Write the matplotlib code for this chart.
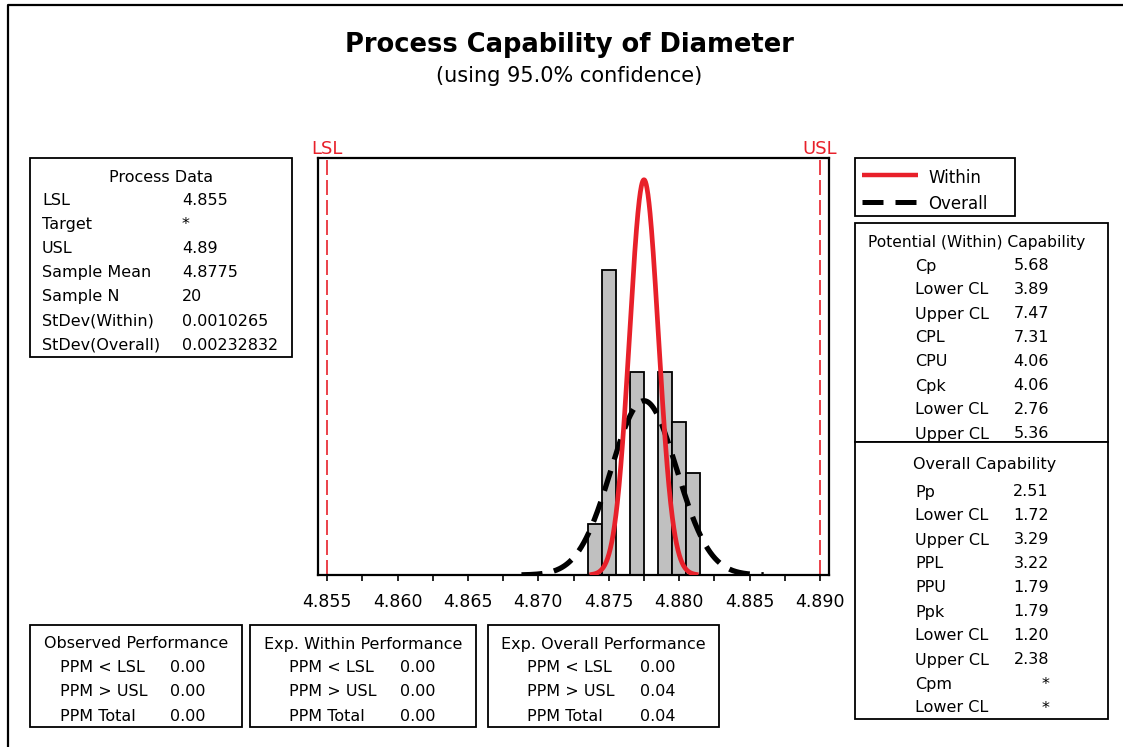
"""
Process capability report for Diameter, redrawn in matplotlib.
Histogram of the 20 measurements with the within / overall normal fits,
spec limits and the capability tables around it.
"""
import matplotlib
matplotlib.use("Agg")
import matplotlib.pyplot as plt
import numpy as np
from matplotlib.patches import Rectangle
from matplotlib.ticker import MultipleLocator

# ---- data ----
LSL = 4.855
USL = 4.890
sample_mean = 4.8775
sample_n = 20
stdev_within = 0.0010265
stdev_overall = 0.00232832

bin_left = [4.8735, 4.8745, 4.8755, 4.8765, 4.8775, 4.8785, 4.8795, 4.8805]
bin_counts = [1, 6, 0, 4, 0, 4, 3, 2]
bin_width = 0.001

# span over which each fitted curve is drawn
within_span = (4.8738, 4.8812)
overall_span = (4.8688, 4.8860)

x_ticks = [4.855, 4.860, 4.865, 4.870, 4.875, 4.880, 4.885, 4.890]

process_labels = ["LSL", "Target", "USL", "Sample Mean", "Sample N",
                  "StDev(Within)", "StDev(Overall)"]
process_values = ["4.855", "*", "4.89", "4.8775", "20", "0.0010265", "0.00232832"]

within_labels = ["Cp", "Lower CL", "Upper CL", "CPL", "CPU", "Cpk",
                 "Lower CL", "Upper CL"]
within_values = ["5.68", "3.89", "7.47", "7.31", "4.06", "4.06", "2.76", "5.36"]

overall_labels = ["Pp", "Lower CL", "Upper CL", "PPL", "PPU", "Ppk",
                  "Lower CL", "Upper CL", "Cpm", "Lower CL"]
overall_values = ["2.51", "1.72", "3.29", "3.22", "1.79", "1.79",
                  "1.20", "2.38", "*", "*"]

perf_labels = ["PPM < LSL", "PPM > USL", "PPM Total"]
observed_ppm = ["0.00", "0.00", "0.00"]
exp_within_ppm = ["0.00", "0.00", "0.00"]
exp_overall_ppm = ["0.00", "0.04", "0.04"]

RED = "#E8202A"
GREY = "#C0C0C0"
W, H = 1123, 747

plt.rcParams["font.family"] = ["DejaVu Sans"]


def normal_pdf(x, mu, sd):
    return np.exp(-0.5 * ((x - mu) / sd) ** 2) / (sd * np.sqrt(2 * np.pi))


fig = plt.figure(figsize=(W / 100, H / 100), dpi=100)
fig.patch.set_facecolor("white")

# pixel canvas for the boxes and text
cv = fig.add_axes([0, 0, 1, 1])
cv.set_xlim(0, W)
cv.set_ylim(H, 0)
cv.axis("off")

# outer frame (left and top only)
cv.plot([7.5, 7.5, W], [H, 5, 5], color="black", lw=1.6, solid_capstyle="butt")

cv.text(569, 45, "Process Capability of Diameter", ha="center", va="center",
        fontsize=18.5, fontweight="bold")
cv.text(569, 76, "(using 95.0% confidence)", ha="center", va="center", fontsize=15)

FS = 11.5


def box(x0, y0, x1, y1, z=2):
    cv.add_patch(Rectangle((x0, y0), x1 - x0, y1 - y0, facecolor="white",
                           edgecolor="black", lw=1.3, zorder=z))


# Process Data box
box(30, 158, 292, 357)
cv.text(161, 178, "Process Data", ha="center", va="center", fontsize=FS, zorder=3)
for i, (lab, val) in enumerate(zip(process_labels, process_values)):
    y = 200.5 + 24.1 * i
    cv.text(42, y, lab, ha="left", va="center", fontsize=FS, zorder=3)
    cv.text(182, y, val, ha="left", va="center", fontsize=FS, zorder=3)

# legend box
box(855, 158, 1015, 216)
cv.plot([862, 918], [175, 175], color=RED, lw=3.2, solid_capstyle="butt", zorder=3)
cv.plot([862, 918], [202, 202], color="black", lw=3.6, dashes=(4.2, 2.4), zorder=3)
cv.text(928, 178, "Within", ha="left", va="center", fontsize=FS + 0.5, zorder=3)
cv.text(928, 204, "Overall", ha="left", va="center", fontsize=FS + 0.5, zorder=3)

# Potential (Within) capability
box(855, 223, 1108, 442, z=2)
cv.text(868, 242, "Potential (Within) Capability", ha="left", va="center",
        fontsize=FS - 0.3, zorder=3)
for i, (lab, val) in enumerate(zip(within_labels, within_values)):
    y = 266 + 24 * i
    cv.text(915, y, lab, ha="left", va="center", fontsize=FS, zorder=3)
    cv.text(1049, y, val, ha="right", va="center", fontsize=FS, zorder=3)

# Overall capability (drawn on top so it clips the last row above)
box(855, 442, 1108, 719, z=4)
cv.text(985, 464, "Overall Capability", ha="center", va="center", fontsize=FS, zorder=5)
for i, (lab, val) in enumerate(zip(overall_labels, overall_values)):
    y = 492 + 24 * i
    cv.text(915, y, lab, ha="left", va="center", fontsize=FS, zorder=5)
    cv.text(1049, y, val, ha="right", va="center", fontsize=FS, zorder=5)

# performance boxes along the bottom
perf_boxes = [
    ((30, 242), "Observed Performance", observed_ppm, 60, 170),
    ((250, 476), "Exp. Within Performance", exp_within_ppm, 289, 400),
    ((488, 719), "Exp. Overall Performance", exp_overall_ppm, 527, 640),
]
for (x0, x1), title, vals, lab_x, val_x in perf_boxes:
    box(x0, 625, x1, 727)
    cv.text((x0 + x1) / 2, 644, title, ha="center", va="center", fontsize=FS, zorder=3)
    for i, (lab, val) in enumerate(zip(perf_labels, vals)):
        y = 667.5 + 24.3 * i
        cv.text(lab_x, y, lab, ha="left", va="center", fontsize=FS, zorder=3)
        cv.text(val_x, y, val, ha="left", va="center", fontsize=FS, zorder=3)

# ---- histogram axes ----
ax = fig.add_axes([318 / W, 1 - 575 / H, (829 - 318) / W, (575 - 158) / H])
density = np.array(bin_counts) / (sample_n * bin_width)
ax.bar(bin_left, density, width=bin_width, align="edge", color=GREY,
       edgecolor="black", linewidth=1.3, zorder=2)

xw = np.linspace(*within_span, 300)
ax.plot(xw, normal_pdf(xw, sample_mean, stdev_within), color=RED, lw=3.4, zorder=4)
xo = np.linspace(*overall_span, 300)
ax.plot(xo, normal_pdf(xo, sample_mean, stdev_overall), color="black", lw=3.8,
        dashes=(4.0, 2.2), zorder=3)

for spec, name in [(LSL, "LSL"), (USL, "USL")]:
    ax.axvline(spec, color=RED, lw=1.2, dashes=(9, 3), zorder=1)
    ax.text(spec, 1.0, name, transform=ax.get_xaxis_transform(), ha="center",
            va="bottom", color=RED, fontsize=13)

ax.set_xlim(4.85435, 4.89064)
ax.set_ylim(0, 1.055 * normal_pdf(sample_mean, sample_mean, stdev_within))
ax.set_xticks(x_ticks)
ax.set_xticklabels([f"{t:.3f}" for t in x_ticks], fontsize=12.5)
ax.xaxis.set_minor_locator(MultipleLocator(0.0025))
ax.tick_params(axis="x", which="both", direction="out", length=4, width=1.2, pad=9)
ax.set_yticks([])
for sp in ax.spines.values():
    sp.set_linewidth(1.6)

fig.savefig("out.png", dpi=100)
